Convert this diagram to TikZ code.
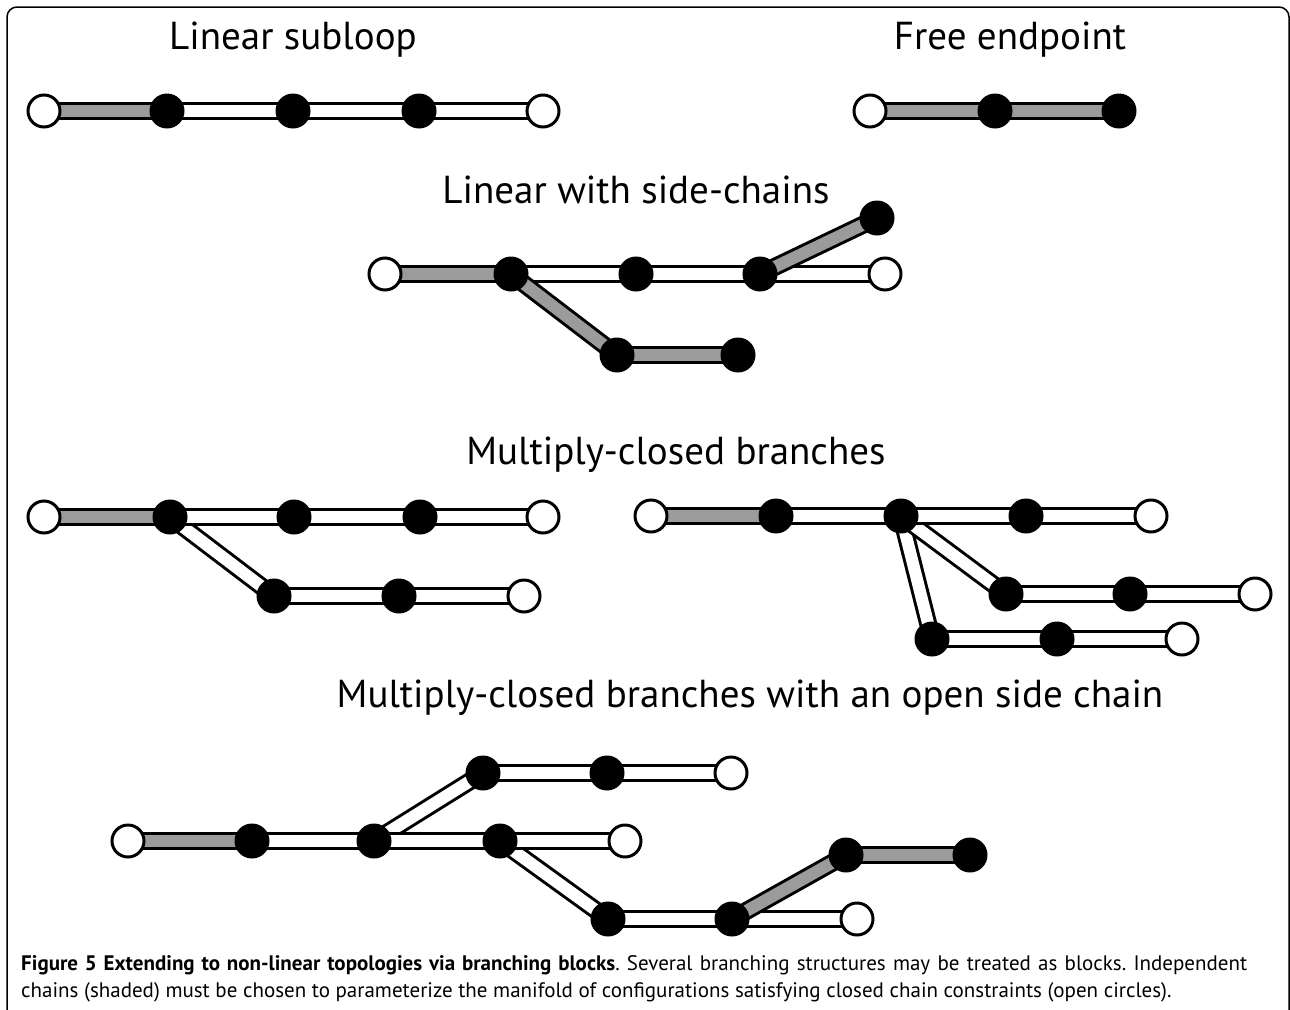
\documentclass[tikz,border=0pt]{standalone}
\usepackage{fontspec}
\setmainfont{PT Sans}
\frenchspacing
\definecolor{shadegray}{RGB}{155,155,155}
\pgfdeclarelayer{bars}
\pgfsetlayers{bars,main}
\tikzset{
  wbar/.style={line width=3pt, double=white, double distance=12pt},
  sbar/.style={line width=3pt, double=shadegray, double distance=12pt},
  fdot/.style={circle, fill=black, minimum size=35pt, inner sep=0pt},
  odot/.style={circle, draw=black, fill=white, line width=3pt, minimum size=32pt, inner sep=0pt},
  ttl/.style={font=\fontsize{39}{46}\selectfont, anchor=center, inner sep=0pt},
  capt/.style={font=\fontsize{21}{27}\selectfont, anchor=base west, inner sep=0pt},
}
\begin{document}
\begin{tikzpicture}[x=1pt,y=-1pt]
\useasboundingbox (0,0) rectangle (1290,1009);
\begin{scope}
\clip (0,0) rectangle (1290,1009);
\draw[line width=1.5pt, rounded corners=10pt] (7,7) rectangle (1289,1030);
\end{scope}

% titles
\node[ttl] (t1) at (293,40) {Linear subloop};
\node[ttl] (t2) at (1010,40) {Free endpoint};
\node[ttl] (t3) at (636,190) {Linear with side-chains};
\node[ttl] (t4) at (676,455) {Multiply-closed branches};
\node[ttl] (t5) at (750,698) {Multiply-closed branches with an open side chain};

% Linear subloop
\node[odot] (a1) at (44,111) {};
\node[fdot] (a2) at (167,111) {};
\node[fdot] (a3) at (293,111) {};
\node[fdot] (a4) at (419,111) {};
\node[odot] (a5) at (543,111) {};
% Free endpoint
\node[odot] (b1) at (870,111) {};
\node[fdot] (b2) at (995,111) {};
\node[fdot] (b3) at (1119,111) {};
% Linear with side-chains
\node[odot] (c1) at (385,274) {};
\node[fdot] (c2) at (511,274) {};
\node[fdot] (c3) at (636,274) {};
\node[fdot] (c4) at (760,274) {};
\node[odot] (c5) at (885,274) {};
\node[fdot] (c6) at (877,218) {};
\node[fdot] (c7) at (617,355) {};
\node[fdot] (c8) at (738,355) {};
% Multiply-closed left
\node[odot] (d1) at (44,517) {};
\node[fdot] (d2) at (170,517) {};
\node[fdot] (d3) at (294,517) {};
\node[fdot] (d4) at (420,517) {};
\node[odot] (d5) at (543,517) {};
\node[fdot] (d6) at (274,596) {};
\node[fdot] (d7) at (399,596) {};
\node[odot] (d8) at (524,596) {};
% Multiply-closed right
\node[odot] (e1) at (651,516) {};
\node[fdot] (e2) at (776,516) {};
\node[fdot] (e3) at (901,516) {};
\node[fdot] (e4) at (1026,516) {};
\node[odot] (e5) at (1151,516) {};
\node[fdot] (e6) at (1006,594) {};
\node[fdot] (e7) at (1130,594) {};
\node[odot] (e8) at (1255,594) {};
\node[fdot] (e9) at (932,639) {};
\node[fdot] (e10) at (1057,639) {};
\node[odot] (e11) at (1182,639) {};
% open side chain
\node[odot] (f1) at (128,841) {};
\node[fdot] (f2) at (252,841) {};
\node[fdot] (f3) at (374,841) {};
\node[fdot] (f4) at (500,841) {};
\node[odot] (f5) at (625,841) {};
\node[fdot] (f6) at (483,773) {};
\node[fdot] (f7) at (607,773) {};
\node[odot] (f8) at (731,773) {};
\node[fdot] (f9) at (608,919) {};
\node[fdot] (f10) at (732,919) {};
\node[odot] (f11) at (857,919) {};
\node[fdot] (f12) at (846,855) {};
\node[fdot] (f13) at (970,855) {};

\begin{pgfonlayer}{bars}
% Linear subloop
\draw[sbar] (a1.center) -- (a2.center);
\draw[wbar] (a2.center) -- (a3.center);
\draw[wbar] (a3.center) -- (a4.center);
\draw[wbar] (a4.center) -- (a5.center);
% Free endpoint
\draw[sbar] (b1.center) -- (b2.center);
\draw[sbar] (b2.center) -- (b3.center);
% Linear with side-chains
\draw[sbar] (c1.center) -- (c2.center);
\draw[wbar] (c2.center) -- (c3.center);
\draw[wbar] (c3.center) -- (c4.center);
\draw[wbar] (c4.center) -- (c5.center);
\draw[sbar] (c4.center) -- (c6.center);
\draw[sbar] (c2.center) -- (c7.center);
\draw[sbar] (c7.center) -- (c8.center);
% Multiply-closed left
\draw[wbar] (d2.center) -- (d6.center);
\draw[sbar] (d1.center) -- (d2.center);
\draw[wbar] (d2.center) -- (d3.center);
\draw[wbar] (d3.center) -- (d4.center);
\draw[wbar] (d4.center) -- (d5.center);
\draw[wbar] (d6.center) -- (d7.center);
\draw[wbar] (d7.center) -- (d8.center);
% Multiply-closed right
\draw[wbar] (e3.center) -- (e9.center);
\draw[wbar] (e3.center) -- (e6.center);
\draw[sbar] (e1.center) -- (e2.center);
\draw[wbar] (e2.center) -- (e3.center);
\draw[wbar] (e3.center) -- (e4.center);
\draw[wbar] (e4.center) -- (e5.center);
\draw[wbar] (e6.center) -- (e7.center);
\draw[wbar] (e7.center) -- (e8.center);
\draw[wbar] (e9.center) -- (e10.center);
\draw[wbar] (e10.center) -- (e11.center);
% open side chain
\draw[wbar] (f3.center) -- (f6.center);
\draw[wbar] (f4.center) -- (f9.center);
\draw[sbar] (f1.center) -- (f2.center);
\draw[wbar] (f2.center) -- (f3.center);
\draw[wbar] (f3.center) -- (f4.center);
\draw[wbar] (f4.center) -- (f5.center);
\draw[wbar] (f6.center) -- (f7.center);
\draw[wbar] (f7.center) -- (f8.center);
\draw[wbar] (f9.center) -- (f10.center);
\draw[wbar] (f10.center) -- (f11.center);
\draw[sbar] (f10.center) -- (f12.center);
\draw[sbar] (f12.center) -- (f13.center);
\end{pgfonlayer}

% caption
\node[capt] (cap1) at (21,970) {\makebox[1226pt][s]{\textbf{Figure 5 Extending to non-linear topologies via branching blocks}. Several branching structures may be treated as blocks. Independent}};
\node[capt] (cap2) at (21,997) {chains (shaded) must be chosen to parameterize the manifold of configurations satisfying closed chain constraints (open circles).};
\end{tikzpicture}
\end{document}
